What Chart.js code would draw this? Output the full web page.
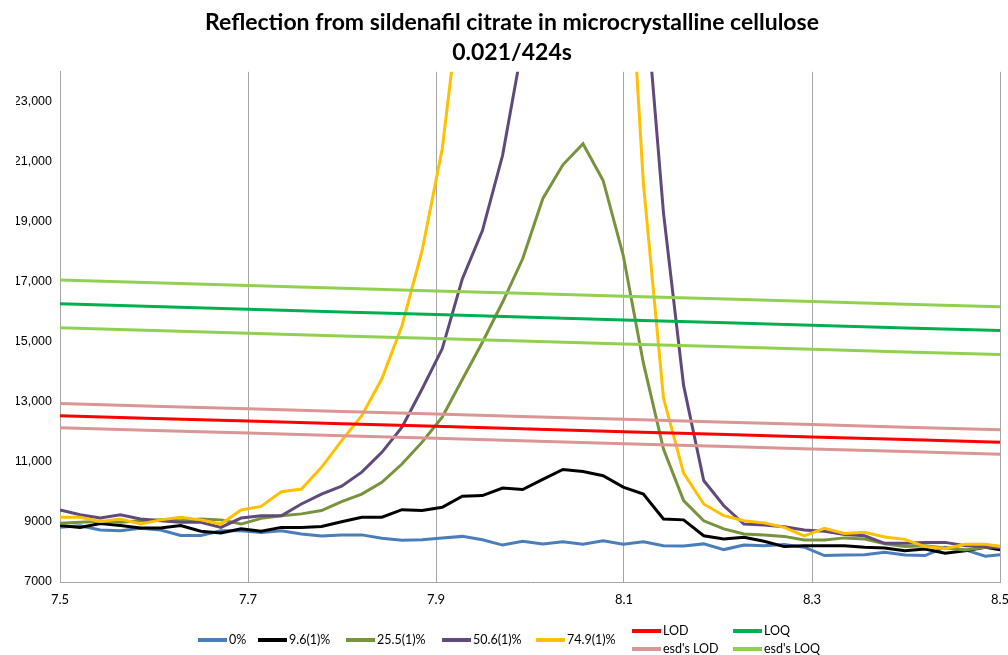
<!DOCTYPE html>
<html>
<head>
<meta charset="utf-8">
<title>Reflection from sildenafil citrate in microcrystalline cellulose</title>
<script src="https://cdn.jsdelivr.net/npm/chart.js@4.4.0/dist/chart.umd.min.js"></script>
<style>
  html, body { margin: 0; padding: 0; background: #fff; }
  #wrap { width: 1008px; height: 655px; }
</style>
</head>
<body>
<div id="wrap"><canvas id="chart" width="1008" height="655"></canvas></div>
<script>
// wavenumber positions of the spectrum points
const xs = [7.5000, 7.5214, 7.5428, 7.5642, 7.5856, 7.6070, 7.6284, 7.6498, 7.6712, 7.6926,
  7.7140, 7.7354, 7.7568, 7.7782, 7.7996, 7.8210, 7.8424, 7.8638, 7.8852, 7.9066,
  7.9280, 7.9494, 7.9708, 7.9922, 8.0136, 8.0350, 8.0564, 8.0778, 8.0992, 8.1206,
  8.1420, 8.1634, 8.1848, 8.2062, 8.2276, 8.2490, 8.2704, 8.2918, 8.3132, 8.3346,
  8.3560, 8.3774, 8.3988, 8.4202, 8.4416, 8.4630, 8.4844, 8.5058];

const pct0 = [8820, 8870, 8730, 8710, 8790, 8730, 8550, 8550, 8710, 8710,
  8650, 8710, 8600, 8530, 8570, 8570, 8460, 8390, 8410, 8470,
  8520, 8410, 8230, 8360, 8270, 8340, 8260, 8370, 8260, 8340,
  8210, 8200, 8270, 8080, 8230, 8210, 8250, 8160, 7880, 7900,
  7910, 7990, 7900, 7880, 8160, 8070, 7860, 7930];

const pct9 = [8880, 8820, 8950, 8880, 8800, 8800, 8880, 8690, 8630, 8770,
  8690, 8820, 8820, 8850, 9010, 9160, 9160, 9410, 9380, 9490,
  9860, 9880, 10130, 10080, 10420, 10750, 10680, 10540, 10160, 9930,
  9100, 9070, 8540, 8430, 8490, 8360, 8180, 8210, 8210, 8210,
  8160, 8130, 8040, 8100, 7960, 8040, 8160, 8040];

const pct25 = [8960, 8990, 9020, 8990, 9040, 9070, 9040, 9100, 9070, 8930,
  9120, 9210, 9270, 9380, 9680, 9930, 10320, 10930, 11660, 12490,
  13750, 14990, 16320, 17770, 19770, 20900, 21600, 20380, 17880, 14300,
  11430, 9710, 9040, 8770, 8600, 8570, 8520, 8400, 8400, 8470,
  8430, 8270, 8180, 8210, 8130, 8070, 8160, 8180];

const pct50 = [9400, 9240, 9130, 9240, 9100, 9040, 8990, 8990, 8820, 9130,
  9210, 9210, 9600, 9930, 10190, 10660, 11320, 12160, 13430, 14770,
  17100, 18710, 21210, 24930, 29000, 32000, 34000, 34500, 33000, 27400,
  19300, 13550, 10380, 9540, 8930, 8900, 8840, 8730, 8690, 8580,
  8540, 8290, 8290, 8320, 8320, 8210, 8180, 8130];

const pct75 = [9160, 9160, 9020, 9100, 8930, 9070, 9160, 9070, 8930, 9400,
  9520, 10010, 10100, 10820, 11710, 12540, 13770, 15540, 18040, 21430,
  27000, 34000, 40000, 44000, 46000, 47000, 45000, 40000, 31500, 20300,
  13130, 10630, 9600, 9210, 9040, 8970, 8820, 8540, 8790, 8620,
  8660, 8500, 8420, 8180, 8110, 8260, 8260, 8160];

// limit lines, read every 0.1
const limX = [7.5, 7.6, 7.7, 7.8, 7.9, 8.0, 8.1, 8.2, 8.3, 8.4, 8.5];
const lod = [12540, 12450, 12365, 12275, 12190, 12100, 12010, 11920, 11835, 11745, 11660];
const lodHigh = [12950, 12860, 12775, 12685, 12600, 12510, 12420, 12330, 12245, 12155, 12070];
const lodLow = [12140, 12050, 11965, 11875, 11790, 11700, 11610, 11520, 11435, 11345, 11260];
const loq = [16270, 16180, 16090, 16000, 15910, 15820, 15730, 15645, 15555, 15465, 15380];
const loqHigh = [17060, 16970, 16880, 16790, 16700, 16610, 16520, 16435, 16345, 16255, 16170];
const loqLow = [15470, 15380, 15290, 15200, 15110, 15020, 14930, 14845, 14755, 14665, 14580];

const xTicks = [7.5, 7.7, 7.9, 8.1, 8.3, 8.5];
const yTicks = [7000, 9000, 11000, 13000, 15000, 17000, 19000, 21000, 23000];

const titleLines = ["Reflection from sildenafil citrate in microcrystalline cellulose", "0.021/424s"];

document.addEventListener("DOMContentLoaded", () => {
  buildChart();
});

function pts(x, y) {
  return x.map((v, i) => ({ x: v, y: y[i] }));
}

function buildChart() {
  const series = [
    { label: "0%", x: xs, y: pct0, color: "#4a7ebb" },
    { label: "9.6(1)%", x: xs, y: pct9, color: "#000000" },
    { label: "25.5(1)%", x: xs, y: pct25, color: "#77933c" },
    { label: "50.6(1)%", x: xs, y: pct50, color: "#604a7b" },
    { label: "74.9(1)%", x: xs, y: pct75, color: "#ffc000" },
    { label: "LOD", x: limX, y: lod, color: "#ff0000" },
    { label: "LOQ", x: limX, y: loq, color: "#00b050" },
    { label: "esd's LOD", x: limX, y: lodHigh, color: "#d99694" },
    { label: "esd's LOD", x: limX, y: lodLow, color: "#d99694" },
    { label: "esd's LOQ", x: limX, y: loqHigh, color: "#92d050" },
    { label: "esd's LOQ", x: limX, y: loqLow, color: "#92d050" }
  ];

  const n = series.length;
  const datasets = series.map((s, i) => ({
    label: s.label,
    data: pts(s.x, s.y),
    borderColor: s.color,
    backgroundColor: s.color,
    borderWidth: 3,
    pointRadius: 0,
    tension: 0,
    fill: false,
    order: n - i // later series drawn on top, like Excel
  }));

  // hand-placed legend, Excel puts it in two rows
  const legendItems = [
    { i: 0, x: 198, y: 640 },
    { i: 1, x: 258, y: 640 },
    { i: 2, x: 346, y: 640 },
    { i: 3, x: 442, y: 640 },
    { i: 4, x: 536, y: 640 },
    { i: 5, x: 632, y: 631 },
    { i: 6, x: 733, y: 631 },
    { i: 7, x: 632, y: 649 },
    { i: 9, x: 733, y: 649 }
  ];

  const legendPlugin = {
    id: "excelLegend",
    afterDraw(chart) {
      const ctx = chart.ctx;
      ctx.save();
      ctx.font = "12.5px Lato";
      ctx.textBaseline = "middle";
      ctx.fillStyle = "#000";
      legendItems.forEach(it => {
        const s = series[it.i];
        ctx.strokeStyle = s.color;
        ctx.lineWidth = 4;
        ctx.beginPath();
        ctx.moveTo(it.x, it.y);
        ctx.lineTo(it.x + 29, it.y);
        ctx.stroke();
        ctx.fillText(s.label, it.x + 31, it.y);
      });
      ctx.restore();
    }
  };

  new Chart(document.getElementById("chart").getContext("2d"), {
    type: "line",
    data: { datasets },
    plugins: [legendPlugin],
    options: {
      responsive: false,
      animation: false,
      events: [],
      layout: { padding: { left: 16, right: 0, top: 0, bottom: 43 } },
      plugins: {
        legend: { display: false },
        tooltip: { enabled: false },
        title: {
          display: true,
          text: titleLines,
          color: "#000",
          font: { family: "Lato", size: 23, weight: "bold", lineHeight: 1.3 },
          padding: { top: 8, bottom: 4 }
        }
      },
      scales: {
        x: {
          type: "linear",
          min: 7.5,
          max: 8.5,
          afterBuildTicks: s => { s.ticks = xTicks.map(v => ({ value: v })); },
          afterFit: s => { s.height = 30; s.paddingRight = 8; s.paddingLeft = 0; },
          grid: { color: "#a6a6a6", lineWidth: 1, drawTicks: false },
          border: { color: "#a6a6a6", width: 1 },
          ticks: {
            color: "#000",
            font: { family: "Lato", size: 13 },
            padding: 10,
            maxRotation: 0,
            callback: v => v.toFixed(1)
          }
        },
        y: {
          type: "linear",
          min: 7000,
          max: 24000,
          afterBuildTicks: s => { s.ticks = yTicks.map(v => ({ value: v })); },
          afterFit: s => { s.width = 44; },
          grid: { display: false, drawTicks: false },
          border: { color: "#a6a6a6", width: 1 },
          ticks: {
            color: "#000",
            font: { family: "Liberation Sans", size: 12.5 },
            padding: 8,
            callback: v => v >= 10000 ? v.toLocaleString("en-US") : String(v)
          }
        }
      }
    }
  });
}
</script>
</body>
</html>
